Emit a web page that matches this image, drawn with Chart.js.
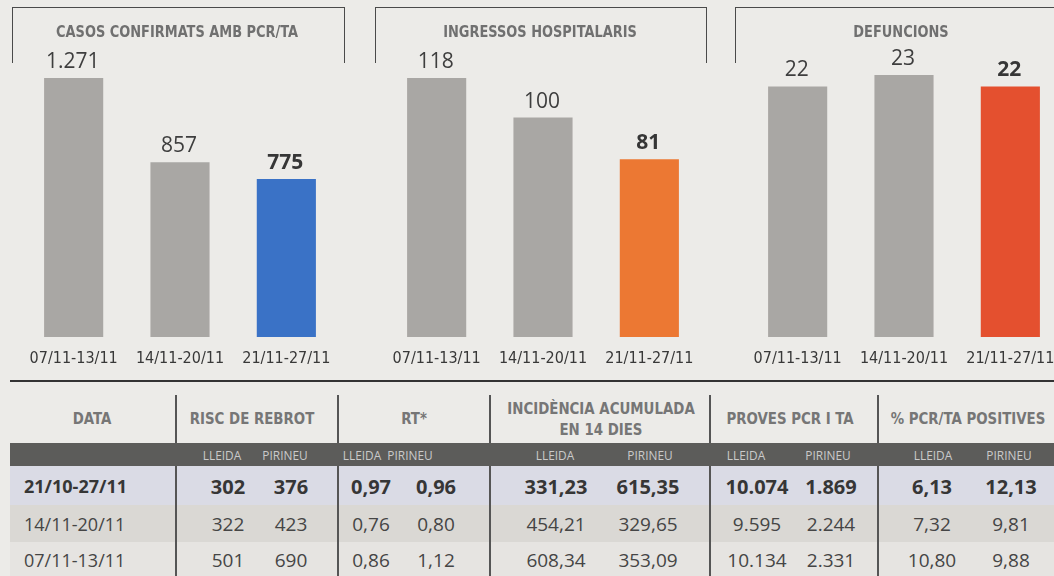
<!DOCTYPE html>
<html>
<head>
<meta charset="utf-8">
<script src="https://cdn.jsdelivr.net/npm/chart.js@4.4.0/dist/chart.umd.min.js"></script>
<style>
  html, body { margin: 0; padding: 0; background: #ecebe8; }
  #page { position: relative; width: 1054px; height: 576px; overflow: hidden; background: #ecebe8; }
  .box { position: absolute; }
  .bracket { position: absolute; top: 7px; height: 55px; border: 1.5px solid #4a4a4a; border-bottom: none; }
  .ctitle { position: absolute; top: 22px; font-family: "Liberation Sans Narrow", "DejaVu Sans Condensed", sans-serif;
            font-weight: bold; font-size: 16px; color: #707070; transform: translateX(-50%) scaleX(0.9); white-space: nowrap; }
  .t { position: absolute; white-space: nowrap; transform: translate(-50%, -50%); }
  .hd { font-family: "Liberation Sans Narrow", "DejaVu Sans Condensed", sans-serif; font-weight: bold; font-size: 16.5px; color: #767676; text-align: center; line-height: 21px; }
  .sub { font-family: "Open Sans", sans-serif; font-size: 13.5px; color: #cacaca; }
  .v { font-family: "Open Sans", sans-serif; font-size: 19px; color: #454545; }
  .vb { font-family: "Open Sans", sans-serif; font-size: 20px; font-weight: bold; color: #363636; }
  .dt { font-size: 18px; }
</style>
</head>
<body>
<div id="page">
  <div class="bracket" style="left:12px; width:331px;"></div>
  <div class="bracket" style="left:375px; width:330px;"></div>
  <div class="bracket" style="left:735px; width:340px;"></div>
  <div class="box" style="left:18px; top:0; width:324px; height:376px;"><canvas id="c1" width="324" height="376"></canvas></div>
  <div class="box" style="left:381px; top:0; width:324px; height:376px;"><canvas id="c2" width="324" height="376"></canvas></div>
  <div class="box" style="left:742px; top:0; width:324px; height:376px;"><canvas id="c3" width="324" height="376"></canvas></div>
  <div class="box" style="left:10px; top:380px; width:1044px; height:1.5px; background:#333;"></div>
  <div id="table"></div>
</div>
<script>
// setmanes dels gràfics
const weeks = ['07/11-13/11', '14/11-20/11', '21/11-27/11'];
const casos = [1271, 857, 775];
const ingressos = [118, 100, 81];
const defuncions = [22, 23, 22];
const chartTitles = ['CASOS CONFIRMATS AMB PCR/TA', 'INGRESSOS HOSPITALARIS', 'DEFUNCIONS'];

// taula
const tableHeaders = ['DATA', 'RISC DE REBROT', 'RT*', 'INCIDÈNCIA ACUMULADA<br>EN 14 DIES', 'PROVES PCR I TA', '% PCR/TA POSITIVES'];
const subHeaders = ['LLEIDA', 'PIRINEU'];
const tableDates = ['21/10-27/11', '14/11-20/11', '07/11-13/11'];
const riscLleida = [302, 322, 501];
const riscPirineu = [376, 423, 690];
const rtLleida = [0.97, 0.76, 0.86];
const rtPirineu = [0.96, 0.80, 1.12];
const ia14Lleida = [331.23, 454.21, 608.34];
const ia14Pirineu = [615.35, 329.65, 353.09];
const provesLleida = [10074, 9595, 10134];
const provesPirineu = [1869, 2244, 2331];
const positLleida = [6.13, 7.32, 10.80];
const positPirineu = [12.13, 9.81, 9.88];

const GRAY = '#a9a7a4';
const condensed = '"Liberation Sans Narrow", "DejaVu Sans Condensed", sans-serif';

function fmt(v, dec) {
    let s = dec ? v.toFixed(dec) : String(Math.round(v));
    let parts = s.split('.');
    parts[0] = parts[0].replace(/\B(?=(\d{3})+(?!\d))/g, '.');
    return parts.join(',');
}

const valueLabels = {
    id: 'valueLabels',
    afterDatasetsDraw(chart) {
        const ctx = chart.ctx;
        const meta = chart.getDatasetMeta(0);
        const vals = chart.data.datasets[0].data;
        ctx.save();
        ctx.textAlign = 'center';
        ctx.textBaseline = 'alphabetic';
        meta.data.forEach(function (bar, i) {
            const last = i === vals.length - 1;
            ctx.font = (last ? 'bold ' : '') + '21px "Open Sans", sans-serif';
            ctx.fillStyle = last ? '#363636' : '#3e3e3e';
            ctx.fillText(fmt(vals[i]), bar.x - 1, bar.y - 10);
        });
        ctx.restore();
    }
};

function drawChart(id, values, accent, topPad) {
    const ctx = document.getElementById(id).getContext('2d');
    return new Chart(ctx, {
        type: 'bar',
        data: {
            labels: weeks,
            datasets: [{
                data: values,
                backgroundColor: values.map((v, i) => i === values.length - 1 ? accent : GRAY),
                borderWidth: 0,
                categoryPercentage: 1,
                barPercentage: 0.556
            }]
        },
        options: {
            responsive: false,
            animation: false,
            devicePixelRatio: 1,
            layout: { padding: { top: topPad, left: 0, right: 0, bottom: 0 } },
            plugins: { legend: { display: false }, tooltip: { enabled: false } },
            scales: {
                x: {
                    grid: { display: false, drawTicks: false },
                    border: { display: false },
                    ticks: { color: '#383838', font: { family: condensed, size: 16 }, padding: 12, maxRotation: 0, autoSkip: false },
                    afterFit: function (s) { s.height = 39; }
                },
                y: { display: false, min: 0, max: Math.max(...values) }
            }
        },
        plugins: [valueLabels]
    });
}

drawChart('c1', casos, '#3a72c6', 78);
drawChart('c2', ingressos, '#ec7833', 78);
drawChart('c3', defuncions, '#e4502f', 75);

// títols dels gràfics
const page = document.getElementById('page');
const titleCenters = [177, 540, 901];
chartTitles.forEach(function (t, i) {
    const d = document.createElement('div');
    d.className = 'ctitle';
    d.style.left = titleCenters[i] + 'px';
    d.textContent = t;
    page.appendChild(d);
});

// taula inferior
const colEdges = [10, 176, 338, 490, 710, 878, 1054];
const rowBands = [[443, 466, '#5c5c5a'], [466, 505, '#dadbe5'], [505, 542, '#dad8d4'], [542, 576, '#e6e4e1']];
const rowMid = [486, 524, 560];
const headCenters = [92, 252, 414, 601, 790, 968];
const subCenters = [[222, 285], [362, 410], [555, 650], [746, 828], [933, 1009]];
const valCenters = [[228, 291], [371, 436], [556, 648], [757, 831], [932, 1011]];
const groups = [
    [riscLleida, riscPirineu, 0],
    [rtLleida, rtPirineu, 2],
    [ia14Lleida, ia14Pirineu, 2],
    [provesLleida, provesPirineu, 0],
    [positLleida, positPirineu, 2]
];

function addBox(x, y, w, h, bg) {
    const d = document.createElement('div');
    d.className = 'box';
    d.style.cssText += 'left:' + x + 'px;top:' + y + 'px;width:' + w + 'px;height:' + h + 'px;background:' + bg + ';';
    page.appendChild(d);
}
function addText(cls, html, x, y, tf) {
    const d = document.createElement('div');
    d.className = 't ' + cls;
    d.style.left = x + 'px';
    d.style.top = y + 'px';
    if (tf) d.style.transform = tf;
    d.innerHTML = html;
    page.appendChild(d);
}

rowBands.forEach(function (r) { addBox(10, r[0], 1044, r[1] - r[0], r[2]); });
for (let k = 1; k < colEdges.length - 1; k++) {
    addBox(colEdges[k] - 0.75, 395, 1.5, 443 - 395, '#555');
    addBox(colEdges[k] - 0.75, 466, 1.5, 576 - 466, '#555');
}
tableHeaders.forEach(function (h, i) {
    addText('hd', h, headCenters[i], i === 3 ? 419 : 418, 'translate(-50%, -50%) scaleX(0.9)');
});
subCenters.forEach(function (c) {
    addText('sub', subHeaders[0], c[0], 455, 'translate(-50%, -50%) scaleX(0.88)');
    addText('sub', subHeaders[1], c[1], 455, 'translate(-50%, -50%) scaleX(0.88)');
});
tableDates.forEach(function (d, r) {
    addText((r === 0 ? 'vb' : 'v') + ' dt', d, 24, rowMid[r], 'translate(0, -50%)');
    groups.forEach(function (g, gi) {
        const cls = r === 0 ? 'vb' : 'v';
        addText(cls, fmt(g[0][r], g[2]), valCenters[gi][0], rowMid[r]);
        addText(cls, fmt(g[1][r], g[2]), valCenters[gi][1], rowMid[r]);
    });
});
</script>
</body>
</html>
